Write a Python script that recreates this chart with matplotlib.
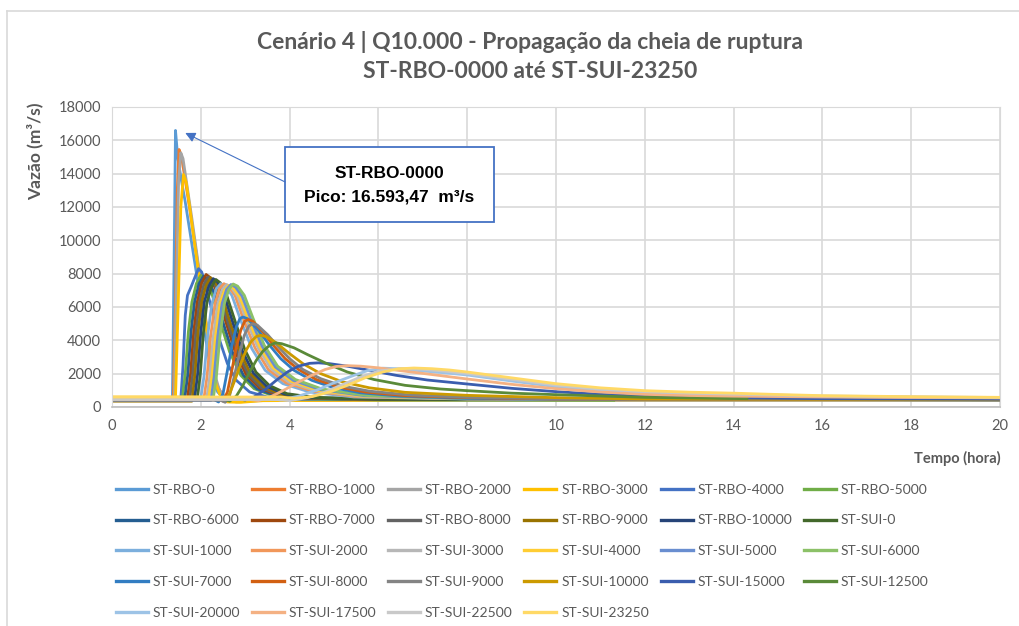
import matplotlib
matplotlib.use("Agg")
import matplotlib.pyplot as plt
from matplotlib.lines import Line2D
from matplotlib.patches import Rectangle

# Hidrogramas (tempo em horas, vazão em m³/s) por seção
rbo_0 = [(0, 500), (1.36, 500), (1.40, 9000), (1.43, 16593.47), (1.48, 15000), (1.55, 13800),
         (1.65, 12300), (1.75, 10600), (1.85, 8900), (1.95, 7200), (2.05, 5300), (2.15, 3400),
         (2.25, 1900), (2.38, 900), (2.55, 450), (2.8, 350), (3.3, 400), (6, 430), (20, 430)]
rbo_1000 = [(0, 450), (1.38, 450), (1.43, 6000), (1.47, 13000), (1.51, 15450), (1.56, 15100),
            (1.65, 13600), (1.75, 11900), (1.85, 10100), (1.95, 8300), (2.05, 6400), (2.15, 4400),
            (2.25, 2600), (2.35, 1400), (2.5, 650), (2.7, 350), (3.2, 400), (6, 430), (20, 430)]
rbo_2000 = [(0, 400), (1.4, 400), (1.45, 7000), (1.5, 13500), (1.55, 15250), (1.6, 14900),
            (1.7, 13100), (1.8, 11300), (1.9, 9400), (2.0, 7500), (2.1, 5500), (2.2, 3600),
            (2.3, 2100), (2.42, 1000), (2.6, 450), (2.8, 300), (3.3, 380), (8, 420), (20, 420)]
rbo_3000 = [(0, 550), (1.43, 550), (1.49, 6000), (1.55, 12000), (1.61, 13950), (1.67, 13500),
            (1.75, 12000), (1.85, 10000), (1.95, 8100), (2.05, 6200), (2.15, 4300), (2.25, 2600),
            (2.35, 1300), (2.45, 600), (2.6, 300), (2.9, 280), (3.4, 380), (8, 420), (20, 420)]
rbo_4000 = [(0, 500), (1.55, 500), (1.6, 2500), (1.65, 5500), (1.7, 6700), (1.78, 7200),
            (1.87, 7800), (1.95, 8300), (2.02, 8100), (2.12, 7200), (2.25, 5800), (2.4, 4200),
            (2.6, 2600), (2.8, 1600), (3.1, 900), (3.5, 600), (4.2, 460), (8, 430), (20, 430)]
rbo_5000 = [(0, 400), (1.58, 400), (1.65, 2000), (1.72, 4500), (1.8, 6300), (1.9, 7400),
            (2.0, 7900), (2.1, 7700), (2.25, 6800), (2.45, 5000), (2.65, 3300), (2.9, 1900),
            (3.2, 1100), (3.6, 700), (4.2, 500), (6, 420), (11.3, 400)]
rbo_6000 = [(0, 550), (1.64, 550), (1.71, 2000), (1.78, 4500), (1.86, 6300), (1.96, 7400),
            (2.06, 7850), (2.16, 7650), (2.31, 6800), (2.51, 5000), (2.71, 3300), (2.96, 1900),
            (3.26, 1100), (3.66, 700), (4.26, 520), (6, 450), (20, 450)]
rbo_7000 = [(0, 500), (1.7, 500), (1.77, 2000), (1.84, 4500), (1.92, 6300), (2.02, 7450),
            (2.12, 7950), (2.22, 7750), (2.37, 6850), (2.57, 5050), (2.77, 3350), (3.02, 1950),
            (3.32, 1150), (3.72, 720), (4.32, 520), (6, 460), (20, 450)]
rbo_8000 = [(0, 450), (1.75, 450), (1.82, 2000), (1.89, 4500), (1.97, 6300), (2.07, 7350),
            (2.17, 7800), (2.27, 7600), (2.42, 6750), (2.62, 5000), (2.82, 3350), (3.07, 1950),
            (3.37, 1150), (3.77, 730), (4.37, 530), (6, 460), (20, 440)]
rbo_9000 = [(0, 350), (1.8, 350), (1.87, 2000), (1.94, 4500), (2.02, 6300), (2.12, 7300),
            (2.22, 7750), (2.32, 7550), (2.47, 6700), (2.67, 5000), (2.87, 3400), (3.12, 2000),
            (3.42, 1200), (3.82, 750), (4.42, 540), (6, 460), (20, 440)]
rbo_10000 = [(0, 500), (1.86, 500), (1.93, 2000), (2.0, 4500), (2.08, 6300), (2.18, 7250),
             (2.28, 7700), (2.38, 7500), (2.53, 6700), (2.73, 5000), (2.93, 3400), (3.18, 2050),
             (3.48, 1250), (3.88, 780), (4.48, 560), (6, 470), (20, 450)]
sui_0 = [(0, 450), (1.92, 450), (1.99, 2000), (2.06, 4500), (2.14, 6300), (2.24, 7200),
         (2.34, 7650), (2.44, 7450), (2.59, 6650), (2.79, 5000), (2.99, 3450), (3.24, 2100),
         (3.54, 1300), (3.94, 800), (4.54, 580), (6, 480), (8.6, 450)]
sui_1000 = [(0, 550), (2.0, 550), (2.07, 1800), (2.15, 4200), (2.25, 6200), (2.35, 7100),
            (2.45, 7400), (2.55, 7250), (2.7, 6700), (2.9, 5200), (3.15, 3500), (3.45, 2200),
            (3.85, 1400), (4.45, 900), (5.45, 600), (8, 480), (20, 460)]
sui_2000 = [(0, 500), (2.07, 500), (2.14, 1800), (2.22, 4200), (2.32, 6200), (2.42, 7100),
            (2.52, 7400), (2.62, 7250), (2.77, 6700), (2.97, 5200), (3.22, 3550), (3.52, 2250),
            (3.92, 1450), (4.52, 950), (5.52, 620), (8, 490), (20, 460)]
sui_3000 = [(0, 450), (2.13, 450), (2.2, 1800), (2.28, 4200), (2.38, 6200), (2.48, 7050),
            (2.58, 7350), (2.68, 7200), (2.83, 6650), (3.03, 5200), (3.28, 3600), (3.58, 2300),
            (3.98, 1500), (4.58, 980), (5.58, 640), (8, 490), (20, 450)]
sui_4000 = [(0, 600), (2.18, 600), (2.25, 1800), (2.33, 4200), (2.43, 6200), (2.53, 7000),
            (2.63, 7300), (2.73, 7150), (2.88, 6600), (3.08, 5200), (3.33, 3600), (3.63, 2350),
            (4.03, 1550), (4.63, 1000), (5.63, 660), (8, 500), (20, 470)]
sui_5000 = [(0, 400), (2.23, 400), (2.3, 1800), (2.38, 4200), (2.48, 6200), (2.58, 7050),
            (2.68, 7350), (2.78, 7200), (2.93, 6650), (3.13, 5250), (3.38, 3650), (3.68, 2400),
            (4.08, 1600), (4.68, 1050), (5.68, 680), (8, 500), (20, 450)]
sui_6000 = [(0, 500), (2.28, 500), (2.35, 1800), (2.43, 4200), (2.53, 6200), (2.63, 7050),
            (2.73, 7380), (2.83, 7250), (2.98, 6700), (3.18, 5300), (3.43, 3700), (3.73, 2450),
            (4.13, 1650), (4.73, 1080), (5.73, 700), (8, 510), (17.2, 450)]
sui_7000 = [(0, 450), (2.3, 450), (2.4, 300), (2.5, 800), (2.6, 2200), (2.7, 3700), (2.8, 4800),
            (2.88, 5300), (2.95, 5400), (3.05, 5300), (3.3, 4600), (3.55, 3700), (3.8, 2900),
            (4.1, 2200), (4.5, 1600), (5.0, 1150), (5.6, 850), (6.5, 650), (8, 520), (10, 470),
            (20, 430)]
sui_8000 = [(0, 500), (2.4, 500), (2.5, 350), (2.6, 900), (2.7, 2200), (2.8, 3600), (2.9, 4600),
            (2.99, 5150), (3.07, 5250), (3.17, 5150), (3.4, 4500), (3.65, 3650), (3.9, 2900),
            (4.2, 2250), (4.6, 1650), (5.1, 1200), (5.7, 900), (6.6, 680), (8, 560), (10, 480),
            (20, 440)]
sui_9000 = [(0, 400), (2.45, 400), (2.55, 280), (2.65, 700), (2.75, 1800), (2.87, 3200),
            (2.98, 4300), (3.08, 4850), (3.17, 5000), (3.27, 4920), (3.5, 4350), (3.75, 3600),
            (4.0, 2900), (4.3, 2250), (4.7, 1700), (5.2, 1250), (5.8, 950), (6.7, 720), (8, 580),
            (10, 490), (20, 440)]
sui_10000 = [(0, 550), (2.45, 550), (2.55, 450), (2.65, 800), (2.78, 1700), (2.9, 2600),
             (3.02, 3400), (3.14, 3950), (3.25, 4230), (3.35, 4300), (3.47, 4230), (3.7, 3850),
             (4.0, 3200), (4.3, 2600), (4.7, 2000), (5.2, 1500), (5.8, 1150), (6.6, 880), (8, 700),
             (10, 560), (12, 480), (20, 450)]
sui_15000 = [(0, 500), (2.8, 500), (3.0, 420), (3.2, 600), (3.45, 1050), (3.7, 1600), (3.95, 2100),
             (4.2, 2450), (4.45, 2620), (4.65, 2650), (4.9, 2600), (5.3, 2450), (5.8, 2200),
             (6.4, 1900), (7.1, 1620), (8, 1380), (9, 1120), (10, 920), (11, 760), (12, 640),
             (14, 540), (16, 500), (20, 470)]
sui_12500 = [(0, 450), (2.55, 450), (2.65, 350), (2.8, 650), (2.95, 1300), (3.1, 2100), (3.25, 2800),
             (3.4, 3350), (3.55, 3700), (3.68, 3850), (3.82, 3800), (4.1, 3550), (4.4, 3150),
             (4.8, 2650), (5.3, 2100), (5.9, 1650), (6.6, 1300), (7.4, 1080), (8, 980), (9, 830),
             (10, 740), (12, 580), (14.3, 500)]
sui_20000 = [(0, 500), (3.5, 500), (3.8, 430), (4.2, 650), (4.6, 1000), (5.0, 1450), (5.4, 1850),
             (5.75, 2180), (6.1, 2330), (6.5, 2290), (7.0, 2160), (7.5, 2050), (8, 1920), (9, 1560),
             (10, 1220), (11, 980), (12, 850), (13, 780), (14, 720), (16, 630), (18, 590), (20, 560)]
sui_17500 = [(0, 450), (3.1, 450), (3.3, 380), (3.6, 650), (3.9, 1050), (4.2, 1500), (4.5, 1900),
             (4.8, 2250), (5.05, 2430), (5.3, 2480), (5.6, 2450), (6.0, 2350), (6.5, 2180),
             (7.2, 1950), (8, 1680), (9, 1360), (10, 1100), (11, 900), (12, 760), (13, 690),
             (14, 650), (16, 600), (18, 570), (20, 550)]
sui_22500 = [(0, 450), (3.7, 450), (4.0, 380), (4.4, 560), (4.8, 900), (5.2, 1350), (5.6, 1800),
             (6.0, 2150), (6.5, 2310), (7.0, 2260), (7.5, 2150), (8, 2010), (9, 1660), (10, 1310),
             (11, 1070), (12, 920), (13, 830), (14, 770), (16, 660), (18, 610), (20, 570)]
sui_23250 = [(0, 600), (3.8, 600), (4.1, 520), (4.5, 620), (4.9, 900), (5.3, 1300), (5.7, 1750),
             (6.1, 2100), (6.45, 2290), (6.8, 2340), (7.2, 2300), (7.6, 2220), (8, 2100), (9, 1750),
             (10, 1400), (11, 1150), (12, 980), (13, 890), (14, 830), (15, 750), (16, 680),
             (18, 620), (20, 580)]

labels = ["ST-RBO-0", "ST-RBO-1000", "ST-RBO-2000", "ST-RBO-3000", "ST-RBO-4000", "ST-RBO-5000",
          "ST-RBO-6000", "ST-RBO-7000", "ST-RBO-8000", "ST-RBO-9000", "ST-RBO-10000", "ST-SUI-0",
          "ST-SUI-1000", "ST-SUI-2000", "ST-SUI-3000", "ST-SUI-4000", "ST-SUI-5000", "ST-SUI-6000",
          "ST-SUI-7000", "ST-SUI-8000", "ST-SUI-9000", "ST-SUI-10000", "ST-SUI-15000", "ST-SUI-12500",
          "ST-SUI-20000", "ST-SUI-17500", "ST-SUI-22500", "ST-SUI-23250"]
hydrographs = [rbo_0, rbo_1000, rbo_2000, rbo_3000, rbo_4000, rbo_5000,
               rbo_6000, rbo_7000, rbo_8000, rbo_9000, rbo_10000, sui_0,
               sui_1000, sui_2000, sui_3000, sui_4000, sui_5000, sui_6000,
               sui_7000, sui_8000, sui_9000, sui_10000, sui_15000, sui_12500,
               sui_20000, sui_17500, sui_22500, sui_23250]

# paleta padrão do Office (acentos + variações)
colors = ["#5B9BD5", "#ED7D31", "#A5A5A5", "#FFC000", "#4472C4", "#70AD47",
          "#255E91", "#9E480E", "#636363", "#997300", "#264478", "#43682B",
          "#7CAFDD", "#F1975A", "#B7B7B7", "#FFCD33", "#698ED0", "#8CC168",
          "#327DC2", "#D26012", "#848484", "#CC9A00", "#3A5DAE", "#5A8A39",
          "#9DC3E6", "#F4B183", "#C9C9C9", "#FFD966"]

FONT = "Lato"
GRAY = "#595959"
W, H = 1020, 626

fig = plt.figure(figsize=(W / 100, H / 100), dpi=100)
ax = fig.add_axes([112 / W, 1 - 407 / H, 888 / W, 300 / H])

for pts, lab, col in zip(hydrographs, labels, colors):
    t = [p[0] for p in pts]
    q = [p[1] for p in pts]
    ax.plot(t, q, color=col, lw=2.0, label=lab, solid_joinstyle="round")

ax.set_xlim(0, 20)
ax.set_ylim(0, 18000)
ax.set_xticks(range(0, 21, 2))
ax.set_yticks(range(0, 18001, 2000))
ax.grid(True, color="#D9D9D9", lw=1.2)
ax.set_axisbelow(True)
for side in ["top", "right", "left"]:
    ax.spines[side].set_color("#D9D9D9")
ax.spines["bottom"].set_color("#BFBFBF")
ax.spines["bottom"].set_linewidth(1.2)
ax.tick_params(length=0, labelsize=10.5, labelcolor=GRAY)
ax.tick_params(axis="x", pad=9)
ax.tick_params(axis="y", pad=8)
for lbl in ax.get_xticklabels() + ax.get_yticklabels():
    lbl.set_fontfamily(FONT)

# pico da seção ST-RBO-0000
peak_t, peak_q = max(rbo_0, key=lambda p: p[1])
peak_txt = f"{peak_q:,.2f}".replace(",", "X").replace(".", ",").replace("X", ".")
box_x0, box_x1 = 3.90, 8.60
box_y0, box_y1 = 11100, 15600
ax.add_patch(Rectangle((box_x0, box_y0), box_x1 - box_x0, box_y1 - box_y0,
                       facecolor="white", edgecolor="#4472C4", lw=1.3, zorder=5))
ax.text((box_x0 + box_x1) / 2, 14000, "ST-RBO-0000", ha="center", va="center",
        fontsize=12.5, fontweight="bold", family="Liberation Sans", zorder=6)
ax.text((box_x0 + box_x1) / 2, 12600, f"Pico: {peak_txt}  m³/s", ha="center", va="center",
        fontsize=12.5, fontweight="bold", family="Liberation Sans", zorder=6)
ax.annotate("", xy=(peak_t + 0.22, peak_q - 150), xytext=(box_x0, 13500),
            arrowprops=dict(arrowstyle="-|>,head_length=0.6,head_width=0.3",
                            color="#4472C4", lw=0.8, shrinkA=0, shrinkB=0), zorder=6)

fig.text(530 / W, 1 - 42 / H, "Cenário 4 | Q10.000 - Propagação da cheia de ruptura",
         ha="center", va="center", fontsize=16.5, fontweight="bold", color=GRAY, family=FONT)
fig.text(530 / W, 1 - 72 / H, "ST-RBO-0000 até ST-SUI-23250",
         ha="center", va="center", fontsize=16.5, fontweight="bold", color=GRAY, family=FONT)
fig.text(35 / W, 1 - 151 / H, "Vazão (m³/s)", rotation=90, ha="center", va="center",
         fontsize=12.5, fontweight="bold", color=GRAY, family=FONT)
fig.text(1001 / W, 1 - 458 / H, "Tempo (hora)", ha="right", va="center",
         fontsize=10.5, fontweight="bold", color=GRAY, family=FONT)

# legenda em 6 colunas, preenchida por linha
ncol = 6
handles = [Line2D([], [], color=c, lw=2.4) for c in colors]
order = [r * ncol + c for c in range(ncol) for r in range(5) if r * ncol + c < len(labels)]
leg = fig.legend([handles[i] for i in order], [labels[i] for i in order], ncol=ncol,
                 loc="upper left", bbox_to_anchor=(110 / W, 1 - 478 / H), frameon=False,
                 prop={"family": FONT, "size": 10}, labelcolor=GRAY, handlelength=2.3,
                 handletextpad=0.35, columnspacing=0.85, labelspacing=1.36, borderaxespad=0)

# moldura da área do gráfico
fig.add_artist(Line2D([7 / W, 7 / W], [0, 1 - 11 / H], color="#D9D9D9", lw=1.2))
fig.add_artist(Line2D([7 / W, 1], [1 - 11 / H, 1 - 11 / H], color="#D9D9D9", lw=1.2))

fig.savefig("out.png", dpi=100, facecolor="white")
